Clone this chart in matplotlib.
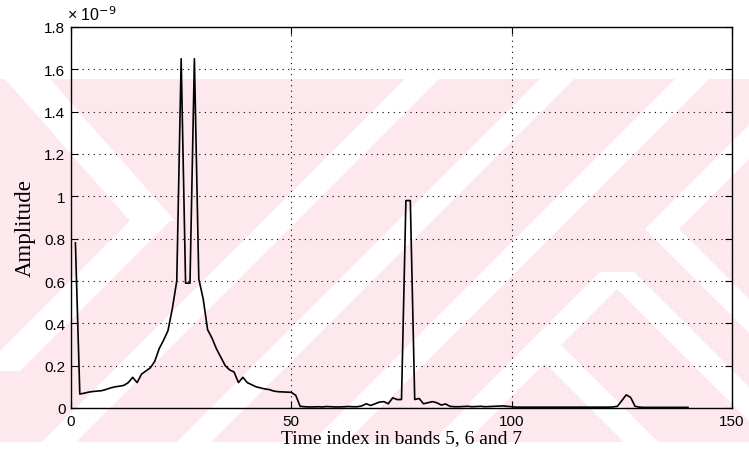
import matplotlib
matplotlib.use("Agg")
import matplotlib.pyplot as plt
from matplotlib.patches import Polygon

# amplitude (x 1e-9) against time index 1..140
idx = list(range(1, 141))
amp = [0.78, 0.066, 0.07, 0.075, 0.078, 0.08, 0.082, 0.088, 0.095, 0.1,
       0.103, 0.107, 0.12, 0.145, 0.12, 0.16, 0.175, 0.19, 0.22, 0.28,
       0.32, 0.365, 0.47, 0.6, 1.65, 0.59, 0.59, 1.65, 0.61, 0.515,
       0.37, 0.33, 0.28, 0.24, 0.2, 0.18, 0.17, 0.12, 0.145, 0.12,
       0.11, 0.1, 0.095, 0.09, 0.087, 0.08, 0.077, 0.076, 0.075, 0.074,
       0.06, 0.008, 0.006, 0.005, 0.005, 0.006, 0.005, 0.007, 0.006, 0.005,
       0.005, 0.006, 0.007, 0.006, 0.006, 0.01, 0.02, 0.012, 0.02, 0.028,
       0.03, 0.02, 0.048, 0.04, 0.04, 0.98, 0.98, 0.04, 0.045, 0.02,
       0.025, 0.03, 0.025, 0.014, 0.019, 0.008, 0.006, 0.006, 0.007, 0.008,
       0.006, 0.007, 0.008, 0.006, 0.007, 0.008, 0.009, 0.01, 0.008, 0.006,
       0.004, 0.004, 0.004, 0.004, 0.004, 0.004, 0.004, 0.004, 0.004, 0.004,
       0.004, 0.004, 0.004, 0.004, 0.004, 0.004, 0.004, 0.004, 0.004, 0.004,
       0.004, 0.004, 0.005, 0.008, 0.035, 0.062, 0.05, 0.008, 0.004, 0.003,
       0.003, 0.003, 0.003, 0.003, 0.003, 0.003, 0.003, 0.003, 0.003, 0.003]

xticks = [0, 50, 100, 150]
yticks = [0, 0.2, 0.4, 0.6, 0.8, 1, 1.2, 1.4, 1.6, 1.8]
ytick_labels = ['0', '0.2', '0.4', '0.6', '0.8', '1', '1.2', '1.4', '1.6', '1.8']

W, H = 749, 452
fig = plt.figure(figsize=(W / 100, H / 100), dpi=100)

# scanned-page watermark: pink band with white diagonal cuts (pixel coords)
pink = '#fde9ed'
def px(pts):
    return [(x / W, 1 - y / H) for x, y in pts]

def wm(pts, color):
    fig.patches.append(Polygon(px(pts), closed=True, transform=fig.transFigure,
                               facecolor=color, edgecolor='none', zorder=-10))

def cut(x0, y0, x1, y1, w=34):
    wm([(x0, y0), (x0 + w, y0), (x1 + w, y1), (x1, y1)], 'white')

wm([(0, 80), (W, 80), (W, 443), (0, 443)], pink)
cut(5, 80, 130, 222, w=45)
cut(130, 222, -20, 372, w=40)
cut(405, 80, 42, 443)
cut(540, 80, 177, 443)
cut(675, 80, 312, 443)
cut(528, 347, 624, 443)
cut(528, 347, 432, 443)
cut(600, 273, 770, 443)
cut(600, 273, 470, 403)
cut(645, 230, 760, 115)
cut(645, 230, 760, 345)

ax = fig.add_axes([71 / W, 1 - 409 / H, (732 - 71) / W, (409 - 28) / H])
ax.set_facecolor('none')

ax.plot(idx, amp, color='black', linewidth=1.2)

ax.set_xlim(0, 150)
ax.set_ylim(0, 1.8)
ax.set_xticks(xticks)
ax.set_yticks(yticks)
ax.set_yticklabels(ytick_labels)
ax.grid(True, linestyle=(0, (1, 4)), color='black', linewidth=0.8)
ax.tick_params(direction='in', top=True, right=True, length=5, width=0.8,
               labelsize=11, pad=4)
for lab in ax.get_xticklabels() + ax.get_yticklabels():
    lab.set_family('Liberation Sans')
for sp in ax.spines.values():
    sp.set_linewidth(1.0)

ax.text(-0.006, 1.01, '× 10$^{-9}$', transform=ax.transAxes,
        fontsize=11.5, family='Liberation Sans', ha='left', va='bottom')

ax.set_xlabel('Time index in bands 5, 6 and 7', family='Liberation Serif',
              fontsize=14, labelpad=1)
ax.set_ylabel('Amplitude', family='Liberation Serif', fontsize=16.5)
ax.yaxis.set_label_coords(-0.054, 0.475)

fig.savefig('out.png', dpi=100)
